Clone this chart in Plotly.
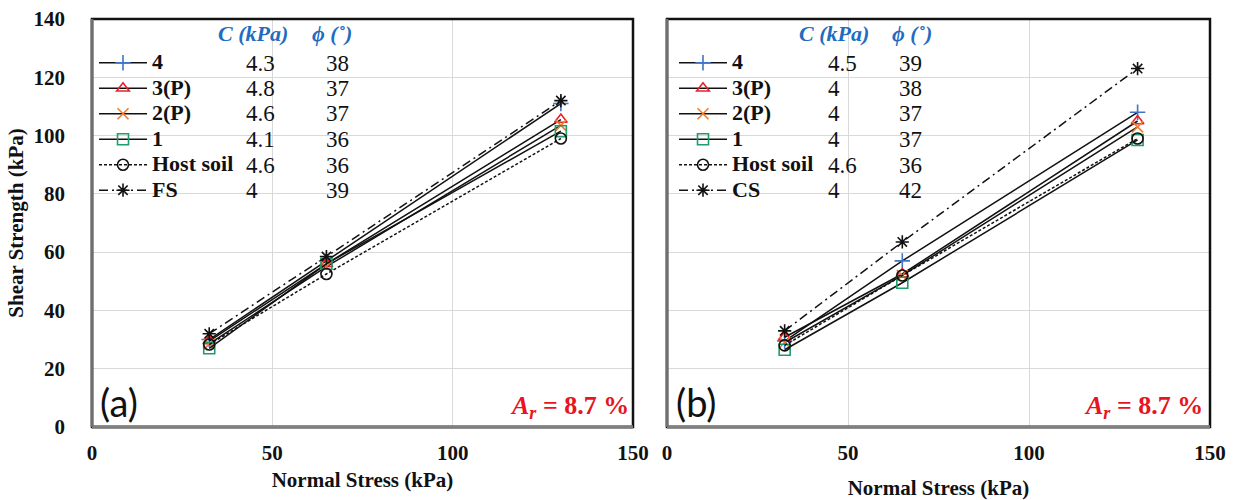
import plotly.graph_objects as go

# ---------------- data ----------------
normal_stress = [32.5, 65, 130]
series_names_a = ["4", "3(P)", "2(P)", "1", "Host soil", "FS"]
series_names_b = ["4", "3(P)", "2(P)", "1", "Host soil", "CS"]

shear_a_4 = [30.0, 57.0, 111.0]
shear_a_3p = [29.5, 56.0, 105.5]
shear_a_2p = [28.5, 55.0, 103.5]
shear_a_1 = [27.0, 56.0, 101.5]
shear_a_host = [28.3, 52.5, 99.0]
shear_a_fs = [32.0, 58.5, 112.0]

shear_b_4 = [29.5, 57.0, 108.0]
shear_b_3p = [30.8, 52.5, 105.0]
shear_b_2p = [29.0, 52.0, 103.0]
shear_b_1 = [26.5, 49.5, 98.5]
shear_b_host = [28.0, 52.0, 99.0]
shear_b_cs = [33.0, 63.5, 123.0]

c_a = ["4.3", "4.8", "4.6", "4.1", "4.6", "4"]
phi_a = ["38", "37", "37", "36", "36", "39"]
c_b = ["4.5", "4", "4", "4", "4.6", "4"]
phi_b = ["39", "38", "37", "37", "36", "42"]

x_ticks = [0, 50, 100, 150]
y_ticks = [0, 20, 40, 60, 80, 100, 120, 140]

# ---------------- styles ----------------
W, H = 1237, 500
SERIF = "Liberation Serif"
styles = [
    dict(symbol="cross-thin-open", color="#3F74C6", dash="solid"),
    dict(symbol="triangle-up-open", color="#E8202A", dash="solid"),
    dict(symbol="x-thin-open", color="#EE7D2F", dash="solid"),
    dict(symbol="square-open", color="#1E9E6A", dash="solid"),
    dict(symbol="circle-open", color="#111111", dash="3px,2px"),
    dict(symbol="asterisk-open", color="#111111", dash="9px,4px,2px,4px"),
]

fig = go.Figure()

panels = [
    ("x", "y", "legend", series_names_a,
     [shear_a_4, shear_a_3p, shear_a_2p, shear_a_1, shear_a_host, shear_a_fs]),
    ("x2", "y2", "legend2", series_names_b,
     [shear_b_4, shear_b_3p, shear_b_2p, shear_b_1, shear_b_host, shear_b_cs]),
]

for xa, ya, lg, names, data in panels:
    for name, vals, st in zip(names, data, styles):
        fig.add_trace(go.Scatter(
            x=normal_stress, y=vals, xaxis=xa, yaxis=ya, legend=lg,
            name=f'<span style="font-size:22px">{name}</span>',
            mode="lines+markers",
            line=dict(color="#111111", width=1.5, dash=st["dash"]),
            marker=dict(symbol=st["symbol"], size=11, color=st["color"],
                        line=dict(color=st["color"], width=1.6)),
        ))


def px(xp):
    return xp / W


def py(yp):
    return 1 - yp / H


ydom = [py(427), py(19)]
axis_common = dict(
    showgrid=True, gridcolor="#D9D9D9", gridwidth=1, zeroline=False,
    showline=False, ticks="", automargin=False,
    tickfont=dict(family=SERIF, size=21, color="#111111", weight="bold"),
)
title_font = dict(family=SERIF, size=21, color="#111111", weight="bold")
legend_common = dict(xanchor="left", yanchor="top", bgcolor="rgba(0,0,0,0)",
                     tracegroupgap=0, itemwidth=48,
                     font=dict(family=SERIF, size=17.3, color="#111111", weight="bold"))

fig.update_layout(
    width=W, height=H, autosize=False,
    margin=dict(l=0, r=0, t=0, b=0, autoexpand=False),
    paper_bgcolor="white", plot_bgcolor="white",
    xaxis=dict(domain=[px(92), px(633)], range=[0, 150], tickvals=x_ticks,
               anchor="y", ticklabelstandoff=11,
               title=dict(text="Normal Stress (kPa)", standoff=8, font=title_font),
               **axis_common),
    yaxis=dict(domain=ydom, range=[0, 140], tickvals=y_ticks, anchor="x",
               ticklabelstandoff=26,
               title=dict(text="Shear Strength (kPa)", standoff=4, font=title_font),
               **axis_common),
    xaxis2=dict(domain=[px(667), px(1210)], range=[0, 150], tickvals=x_ticks,
                anchor="y2", ticklabelstandoff=11,
                title=dict(text="Normal Stress (kPa)", standoff=18, font=title_font),
                **axis_common),
    yaxis2=dict(domain=ydom, range=[0, 140], tickvals=y_ticks, anchor="x2",
                showticklabels=False, **axis_common),
    legend=dict(x=px(94), y=py(45), **legend_common),
    legend2=dict(x=px(674), y=py(45), **legend_common),
)

# frames
for xa, ya in [("x", "y"), ("x2", "y2")]:
    fig.add_shape(type="rect", xref=f"{xa} domain", yref=f"{ya} domain",
                  x0=0, x1=1, y0=0, y1=1, line=dict(color="#111111", width=2.5))
    fig.add_shape(type="line", xref=f"{xa} domain", yref=f"{ya} domain",
                  x0=0, x1=1, y0=0, y1=0, line=dict(color="#7F7F7F", width=3.5))
    fig.add_shape(type="line", xref=f"{xa} domain", yref=f"{ya} domain",
                  x0=0, x1=0, y0=0, y1=1, line=dict(color="#6F6F6F", width=3))

# legend table columns
BLUE = "#1F6CC0"
row_y0, row_dy = 63, 25.5
tables = [
    (c_a, phi_a, 216, 310, 244, 324),
    (c_b, phi_b, 797, 890, 826, 897),
]
for cvals, pvals, hx_c, hx_p, cx, pxx in tables:
    fig.add_annotation(xref="paper", yref="paper", x=px(hx_c), y=py(33),
                       xanchor="left", yanchor="middle", showarrow=False,
                       text="<b><i>C (kPa)</i></b>",
                       font=dict(family=SERIF, size=22, color=BLUE))
    fig.add_annotation(xref="paper", yref="paper", x=px(hx_p), y=py(33),
                       xanchor="left", yanchor="middle", showarrow=False,
                       text="<b><i>ϕ (˚)</i></b>",
                       font=dict(family=SERIF, size=22, color=BLUE))
    for i, (cv, pv) in enumerate(zip(cvals, pvals)):
        yy = row_y0 + i * row_dy
        fig.add_annotation(xref="paper", yref="paper", x=px(cx), y=py(yy),
                           xanchor="left", yanchor="middle", showarrow=False,
                           text=cv, font=dict(family=SERIF, size=23, color="#111111"))
        fig.add_annotation(xref="paper", yref="paper", x=px(pxx), y=py(yy),
                           xanchor="left", yanchor="middle", showarrow=False,
                           text=pv, font=dict(family=SERIF, size=23, color="#111111"))

# panel labels and area ratio
for xa, ya, lab, xr in [("x", "y", "(a)", 0.997), ("x2", "y2", "(b)", 0.99)]:
    fig.add_annotation(xref=f"{xa} domain", yref=f"{ya} domain", x=0.012, y=0.0,
                       xanchor="left", yanchor="bottom", showarrow=False,
                       text=lab, font=dict(family="Lato", size=38, color="#111111"))
    fig.add_annotation(xref=f"{xa} domain", yref=f"{ya} domain", x=xr, y=0.005,
                       xanchor="right", yanchor="bottom", showarrow=False,
                       text="<b><i>A</i><sub><i>r</i></sub> = 8.7 %</b>",
                       font=dict(family=SERIF, size=26, color="#E8141E"))

fig.write_html("out.html", config={"displayModeBar": False},
               post_script="document.body.style.margin='0px';document.body.style.padding='0px';")
